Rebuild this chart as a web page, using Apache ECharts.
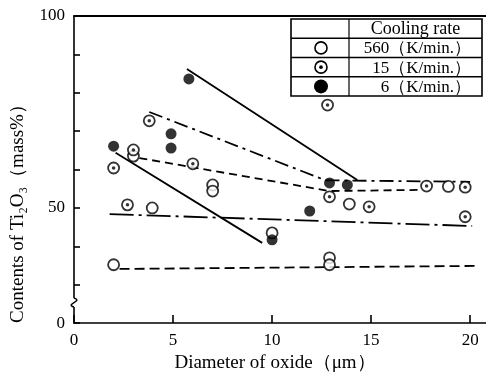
<!DOCTYPE html>
<html>
<head>
<meta charset="utf-8">
<script src="https://cdn.jsdelivr.net/npm/echarts@6/dist/echarts.min.js"></script>
<style>
html,body{margin:0;padding:0;background:#fff;}
#c{width:486px;height:378px;}
</style>
</head>
<body>
<div id="c"></div>
<script>
// ---- data (x = diameter of oxide, µm; y = Ti2O3 content, mass%) ----
const open560 = [[2.0,35.2],[3.0,63.5],[3.95,50.0],[7.0,56.0],[7.0,54.4],[10.0,43.5],[12.9,37.0],[12.9,35.2],[13.9,51.0],[18.9,55.6]];
const dot15   = [[2.0,60.4],[2.7,50.8],[3.0,65.1],[3.8,72.7],[6.0,61.5],[12.8,76.8],[12.9,52.9],[14.9,50.3],[17.8,55.7],[19.75,55.4],[19.75,47.7]];
const fill6   = [[2.0,66.1],[4.9,69.3],[4.9,65.6],[5.8,83.6],[10.0,41.7],[11.9,49.2],[12.9,56.5],[13.8,56.0]];

const solidA   = [[5.7,86.2],[14.3,57.3]];
const solidB   = [[2.1,64.4],[9.5,40.9]];
const dashDotC = [[3.8,75.0],[12.7,57.2],[20.0,56.8]];
const dashedD  = [[3.3,63.0],[12.9,54.4],[17.5,54.7]];
const dashDotE = [[1.8,48.4],[20.1,45.3]];
const dashedF  = [[2.3,34.1],[20.25,34.9]];

const xTickValues = [0,5,10,15,20];
const yLabelValues = [50,100];
const yBreakBase = 20;           // broken axis: bottom of the axis (value 20 position) is labelled 0
const legendRows = ['560（K/min.）','15（K/min.）','6（K/min.）'];

const FONT = '"Liberation Serif", "Times New Roman", serif';
const chart = echarts.init(document.getElementById('c'), null, {renderer:'canvas'});

const openStyle = {color:'#fff', borderColor:'#000', borderWidth:1.8};
function lineSeries(data, type){
  return {type:'line', data, symbol:'none', z:2, silent:true,
    lineStyle:{color:'#000', width:1.8, type}, animation:false};
}

chart.setOption({
  animation:false,
  grid:{left:74, top:16, right:0, bottom:54, containLabel:false},
  xAxis:[{
    type:'value', min:0, max:20.8,
    axisLine:{show:true, lineStyle:{color:'#000', width:1.6}},
    axisTick:{show:true, inside:true, length:8, customValues:xTickValues, lineStyle:{color:'#000', width:1.6}},
    axisLabel:{customValues:xTickValues, margin:9, color:'#000', fontFamily:FONT, fontSize:17},
    splitLine:{show:false},
    name:'Diameter of oxide（μm）', nameLocation:'middle', nameGap:25,
    nameTextStyle:{color:'#000', fontFamily:FONT, fontSize:19, padding:[0,10,0,0]}
  },{
    type:'value', position:'top', min:0, max:20.8,
    axisLine:{show:true, onZero:false, lineStyle:{color:'#000', width:1.8}},
    axisTick:{show:false}, axisLabel:{show:false}, splitLine:{show:false}
  }],
  yAxis:{
    type:'value', min:yBreakBase, max:100, interval:10,
    axisLine:{show:true, lineStyle:{color:'#000', width:1.6}},
    axisTick:{show:true, inside:true, length:6, lineStyle:{color:'#000', width:1.6}},
    axisLabel:{margin:9, color:'#000', fontFamily:FONT, fontSize:17,
      formatter:v => v===yBreakBase ? '0' : (yLabelValues.includes(v) ? String(v) : '')},
    splitLine:{show:false}
  },
  series:[
    lineSeries(solidA,'solid'),
    lineSeries(solidB,'solid'),
    lineSeries(dashDotC,[14,5,3,5]),
    lineSeries(dashedD,[8,5]),
    lineSeries(dashDotE,[24,5,3,5]),
    lineSeries(dashedF,[10,5]),
    {type:'scatter', name:'560', data:open560, symbol:'circle', symbolSize:11, itemStyle:openStyle, z:3},
    {type:'scatter', name:'15', data:dot15, symbol:'circle', symbolSize:11, itemStyle:openStyle, z:3},
    {type:'scatter', name:'15dot', data:dot15, symbol:'circle', symbolSize:3.5, itemStyle:{color:'#000'}, z:4},
    {type:'scatter', name:'6', data:fill6, symbol:'circle', symbolSize:11, itemStyle:{color:'#000'}, z:3}
  ]
});

// ---- legend table, y-axis title, axis break mark ----
const L = {x:291, y:19, w:191, h:77, col:349};
const rowH = L.h/4;
const g = [];
g.push({type:'rect', shape:{x:L.x, y:L.y, width:L.w, height:L.h}, style:{fill:'#fff', stroke:'#000', lineWidth:1.6}, z:10});
g.push({type:'line', shape:{x1:L.col, y1:L.y, x2:L.col, y2:L.y+L.h}, style:{stroke:'#000', lineWidth:1.2}, z:11});
for(let i=1;i<4;i++){
  g.push({type:'line', shape:{x1:L.x, y1:L.y+rowH*i, x2:L.x+L.w, y2:L.y+rowH*i}, style:{stroke:'#000', lineWidth:1.4}, z:11});
}
g.push({type:'text', x:(L.col+L.x+L.w)/2, y:L.y+rowH/2+1, style:{text:'Cooling rate', font:'18px '+FONT, fill:'#000', align:'center', verticalAlign:'middle'}, z:12});
legendRows.forEach((t,i)=>{
  const cy = L.y+rowH*(i+1.5)+1;
  g.push({type:'text', x:L.x+L.w-11, y:cy, style:{text:t, font:'17px '+FONT, fill:'#000', align:'right', verticalAlign:'middle'}, z:12});
  const mx = (L.x+L.col)/2+1;
  if(i===0) g.push({type:'circle', shape:{cx:mx, cy:cy-1, r:6}, style:{fill:'#fff', stroke:'#000', lineWidth:1.6}, z:12});
  if(i===1){
    g.push({type:'circle', shape:{cx:mx, cy:cy-1, r:6}, style:{fill:'#fff', stroke:'#000', lineWidth:1.6}, z:12});
    g.push({type:'circle', shape:{cx:mx, cy:cy-1, r:1.8}, style:{fill:'#000'}, z:13});
  }
  if(i===2) g.push({type:'circle', shape:{cx:mx, cy:cy-1, r:7}, style:{fill:'#000'}, z:12});
});
g.push({type:'text', x:18, y:209, rotation:Math.PI/2,
  style:{text:'Contents of Ti₂O₃（mass%）', font:'19px '+FONT, fill:'#000', align:'center', verticalAlign:'middle'}, z:12});

const pTop = chart.convertToPixel({gridIndex:0}, [0, 26.5]);
const pBot = chart.convertToPixel({gridIndex:0}, [0, 24.2]);
const ax = pTop[0], y1 = pTop[1], y2 = pBot[1];
g.push({type:'line', shape:{x1:ax, y1:y1, x2:ax, y2:y2}, style:{stroke:'#fff', lineWidth:4}, z:20});
g.push({type:'bezierCurve', shape:{x1:ax, y1:y1, cpx1:ax+10, cpy1:y1+3, cpx2:ax-10, cpy2:y2-3, x2:ax, y2:y2}, style:{stroke:'#000', lineWidth:1.4, fill:null}, z:21});

chart.setOption({graphic:g});
</script>
</body>
</html>
